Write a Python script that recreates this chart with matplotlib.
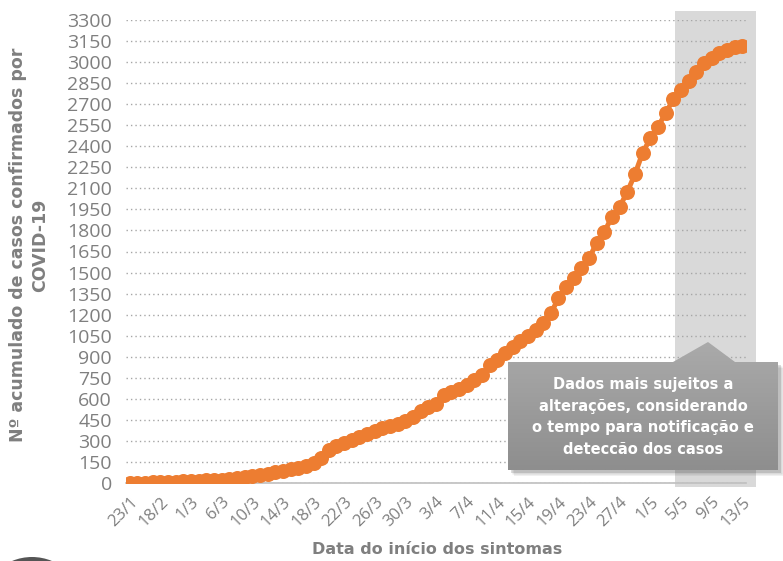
import numpy as np
import pandas as pd
import matplotlib
matplotlib.use("Agg")
import matplotlib.pyplot as plt
from matplotlib.patches import Polygon, Circle

# categories: symptom onset dates (sparse early, daily from 14/3)
early_dates = ["23/1", "29/1", "5/2", "12/2", "18/2", "21/2", "25/2", "28/2",
               "1/3", "2/3", "3/3", "5/3", "6/3", "7/3", "8/3", "9/3",
               "10/3", "11/3", "12/3", "13/3"]
daily = pd.date_range("2020-03-14", "2020-05-13", freq="D")
dates = early_dates + [f"{d.day}/{d.month}" for d in daily]

cumulative = [1, 2, 3, 4, 5, 7, 9, 11, 13, 15,
              18, 21, 24, 28, 33, 40, 48, 57, 66, 76,
              86, 97, 108, 122, 140, 180, 235, 265, 285, 305,
              330, 352, 372, 390, 405, 420, 440, 470, 510, 545,
              565, 625, 650, 670, 700, 735, 770, 840, 880, 925,
              970, 1010, 1045, 1090, 1140, 1210, 1316, 1399, 1459, 1530,
              1601, 1713, 1791, 1898, 1969, 2076, 2202, 2354, 2456, 2540,
              2635, 2735, 2801, 2867, 2931, 2996, 3031, 3063, 3086, 3105,
              3115]

y_ticks = list(range(0, 3301, 150))
orange = "#ED7D31"
grey_txt = "#7f7f7f"

fig = plt.figure(figsize=(7.83, 5.61), dpi=100)
ax = fig.add_axes([126/783, 1-483/561, 620/783, 463/561])

x = np.arange(len(dates))
ax.plot(x, cumulative, color=orange, lw=3.6, marker="o", ms=10.8,
        markeredgewidth=0, zorder=3, solid_capstyle="round")

ax.set_xlim(-0.5, len(dates) - 0.5)
ax.set_ylim(0, 3300)
ax.set_yticks(y_ticks)
ax.set_yticklabels([str(v) for v in y_ticks], fontsize=14, color=grey_txt,
                   family="Open Sans")
ax.set_xticks(x[::4])
ax.set_xticklabels(dates[::4], rotation=45, ha="right", rotation_mode="anchor",
                   fontsize=12, color=grey_txt, family="Open Sans")
ax.tick_params(axis="both", length=0)
ax.tick_params(axis="y", pad=10)
ax.tick_params(axis="x", pad=8)

ax.set_axisbelow(True)
ax.yaxis.grid(True, linestyle=(0, (1, 2.2)), color="#a6a6a6", lw=1)
for s in ["top", "right", "left"]:
    ax.spines[s].set_visible(False)
ax.spines["bottom"].set_color("#bfbfbf")
ax.spines["bottom"].set_linewidth(1.2)

# shaded "recent data" region
ax.axvspan(71.2, 81.8, ymin=-0.009, ymax=1.02, color="#d9d9d9", lw=0,
           zorder=0.2, clip_on=False)

fig.text(29/783, 1-245/561, "Nº acumulado de casos confirmados por\nCOVID-19",
         rotation=90, ha="center", va="center", multialignment="center",
         fontsize=12.5, fontweight="bold", color=grey_txt, linespacing=1.25)
fig.text(437/783, 1-550/561, "Data do início dos sintomas", ha="center",
         va="center", fontsize=11.5, fontweight="bold", color=grey_txt)

# overlay in pixel coordinates for the callout and cropped logo
ov = fig.add_axes([0, 0, 1, 1], zorder=5)
ov.set_xlim(0, 783)
ov.set_ylim(561, 0)
ov.axis("off")

def callout_path(dx=0, dy=0):
    x0, x1, y0, y1 = 508 + dx, 778 + dx, 362 + dy, 470 + dy
    tip = (708 + dx, 342 + dy)
    return [(x0, y0), (673 + dx, y0), tip, (735 + dx, y0), (x1, y0),
            (x1, y1), (x0, y1), (x0, y0)]

for k, a in [(6, 0.08), (4.5, 0.12), (3, 0.18)]:
    ov.add_patch(Polygon(callout_path(k, k), closed=True, color="#404040",
                         alpha=a, lw=0))
shape = Polygon(callout_path(), closed=True, facecolor="none", lw=0)
ov.add_patch(shape)
grad = np.linspace(0, 1, 100).reshape(-1, 1)
img = ov.imshow(grad, cmap=matplotlib.colors.LinearSegmentedColormap.from_list(
    "g", ["#aaaaaa", "#8e8e8e"]), extent=[508, 778, 470, 342], aspect="auto",
    zorder=2)
img.set_clip_path(shape)
ov.set_xlim(0, 783)
ov.set_ylim(561, 0)

ov.text(643, 417, "Dados mais sujeitos a\nalterações, considerando\n"
        "o tempo para notificação e\ndeteccão dos casos",
        ha="center", va="center", color="white", fontsize=10.5,
        fontweight="bold", linespacing=1.55, zorder=3)

ov.add_patch(Circle((32, 609), 52, color="#555555", lw=0))

fig.savefig("out.png", dpi=100)
